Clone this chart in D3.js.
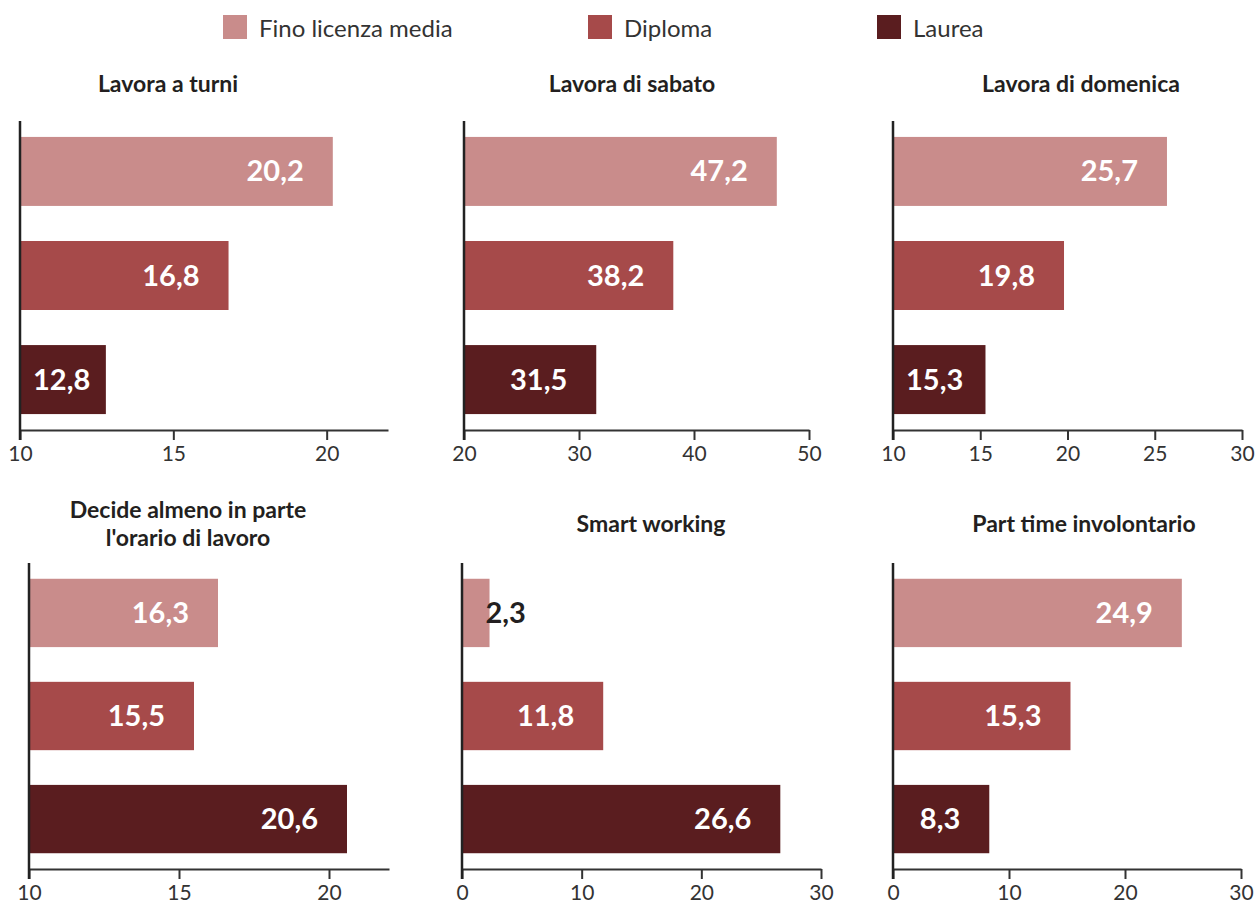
<!DOCTYPE html>
<html>
<head>
<meta charset="utf-8">
<script src="https://cdn.jsdelivr.net/npm/d3@7"></script>
<style>
  body { margin: 0; background: #fff; }
  svg { display: block; font-family: Lato, "Open Sans", sans-serif; }
</style>
</head>
<body>
<svg id="chart" width="1255" height="908"></svg>
<script>
// ---- data ----
const categories = ["Fino licenza media", "Diploma", "Laurea"];
const panelTitles = [
  ["Lavora a turni"],
  ["Lavora di sabato"],
  ["Lavora di domenica"],
  ["Decide almeno in parte", "l'orario di lavoro"],
  ["Smart working"],
  ["Part time involontario"]
];
const valuesTurni     = [20.2, 16.8, 12.8];
const valuesSabato    = [47.2, 38.2, 31.5];
const valuesDomenica  = [25.7, 19.8, 15.3];
const valuesOrario    = [16.3, 15.5, 20.6];
const valuesSmart     = [2.3, 11.8, 26.6];
const valuesPartTime  = [24.9, 15.3, 8.3];
const seriesValues = [valuesTurni, valuesSabato, valuesDomenica, valuesOrario, valuesSmart, valuesPartTime];
const axisDomains = [[10, 22], [20, 50], [10, 30], [10, 22], [0, 30], [0, 30]];
const tickValues = [
  [10, 15, 20],
  [20, 30, 40, 50],
  [10, 15, 20, 25, 30],
  [10, 15, 20],
  [0, 10, 20, 30],
  [0, 10, 20, 30]
];

// ---- layout ----
const colors = ["#c98c8b", "#a64a4a", "#5a1d1f"];
const layout = [
  { x0: 20,  x1: 388,  y0: 121, y1: 430, tx: 168,  ty: 92 },
  { x0: 464, x1: 809,  y0: 121, y1: 430, tx: 632,  ty: 92 },
  { x0: 893, x1: 1242, y0: 121, y1: 430, tx: 1081, ty: 92 },
  { x0: 29,  x1: 389,  y0: 563, y1: 869, tx: 188,  ty: 518 },
  { x0: 462, x1: 821,  y0: 563, y1: 869, tx: 651,  ty: 532 },
  { x0: 893, x1: 1241, y0: 563, y1: 869, tx: 1084, ty: 532 }
];

const svg = d3.select("#chart");
const fmt = v => d3.format(".1f")(v).replace(".", ",");

// legend
const legendX = [223, 588, 877];
const legend = svg.append("g");
categories.forEach((c, i) => {
  legend.append("rect").attr("x", legendX[i]).attr("y", 15).attr("width", 24).attr("height", 24).attr("fill", colors[i]);
  legend.append("text").attr("x", legendX[i] + 36).attr("y", 37)
    .attr("font-size", 24).attr("fill", "#333").text(c);
});

layout.forEach((L, p) => {
  const g = svg.append("g");
  const x = d3.scaleLinear().domain(axisDomains[p]).range([L.x0, L.x1]);
  const y = d3.scaleBand().domain(categories).range([L.y0, L.y1]).paddingInner(0.337).paddingOuter(0.153);

  // title
  const t = g.append("text").attr("x", L.tx).attr("y", L.ty).attr("text-anchor", "middle")
    .attr("font-size", 23).attr("font-weight", 700).attr("fill", "#231f20");
  panelTitles[p].forEach((line, i) => {
    t.append("tspan").attr("x", L.tx).attr("dy", i === 0 ? 0 : 28).text(line);
  });

  // bars
  const d0 = axisDomains[p][0];
  g.selectAll("rect.bar").data(seriesValues[p]).join("rect")
    .attr("class", "bar")
    .attr("x", x(d0))
    .attr("y", (d, i) => y(categories[i]))
    .attr("width", d => x(d) - x(d0))
    .attr("height", y.bandwidth())
    .attr("fill", (d, i) => colors[i]);

  // labels
  g.selectAll("text.val").data(seriesValues[p]).join("text")
    .attr("class", "val")
    .attr("font-size", 29).attr("font-weight", 700)
    .attr("y", (d, i) => y(categories[i]) + y.bandwidth() / 2 + 10)
    .text(d => fmt(d))
    .each(function(d) {
      const w = x(d) - x(d0);
      const sel = d3.select(this);
      const tw = this.getComputedTextLength();
      if (w < 80) {
        sel.attr("x", x(d) - 4).attr("text-anchor", "start").attr("fill", "#231f20");
      } else {
        const end = Math.max(x(d) - 29, x(d0) + 13 + tw);
        sel.attr("x", end).attr("text-anchor", "end").attr("fill", "#fff");
      }
    });

  // x axis
  const ax = g.append("g").attr("transform", `translate(0,${L.y1})`)
    .call(d3.axisBottom(x).tickValues(tickValues[p]).tickSize(10).tickSizeOuter(0).tickPadding(6));
  ax.select(".domain").attr("stroke", "#333").attr("stroke-width", 2);
  ax.selectAll(".tick line").attr("stroke", "#333").attr("stroke-width", 2);
  ax.selectAll(".tick text").attr("font-size", 21).attr("fill", "#333").attr("font-family", "Lato, sans-serif");

  // y axis line
  g.append("line").attr("x1", L.x0).attr("x2", L.x0).attr("y1", L.y0).attr("y2", L.y1 + 10)
    .attr("stroke", "#222").attr("stroke-width", 2.5);
});
</script>
</body>
</html>
